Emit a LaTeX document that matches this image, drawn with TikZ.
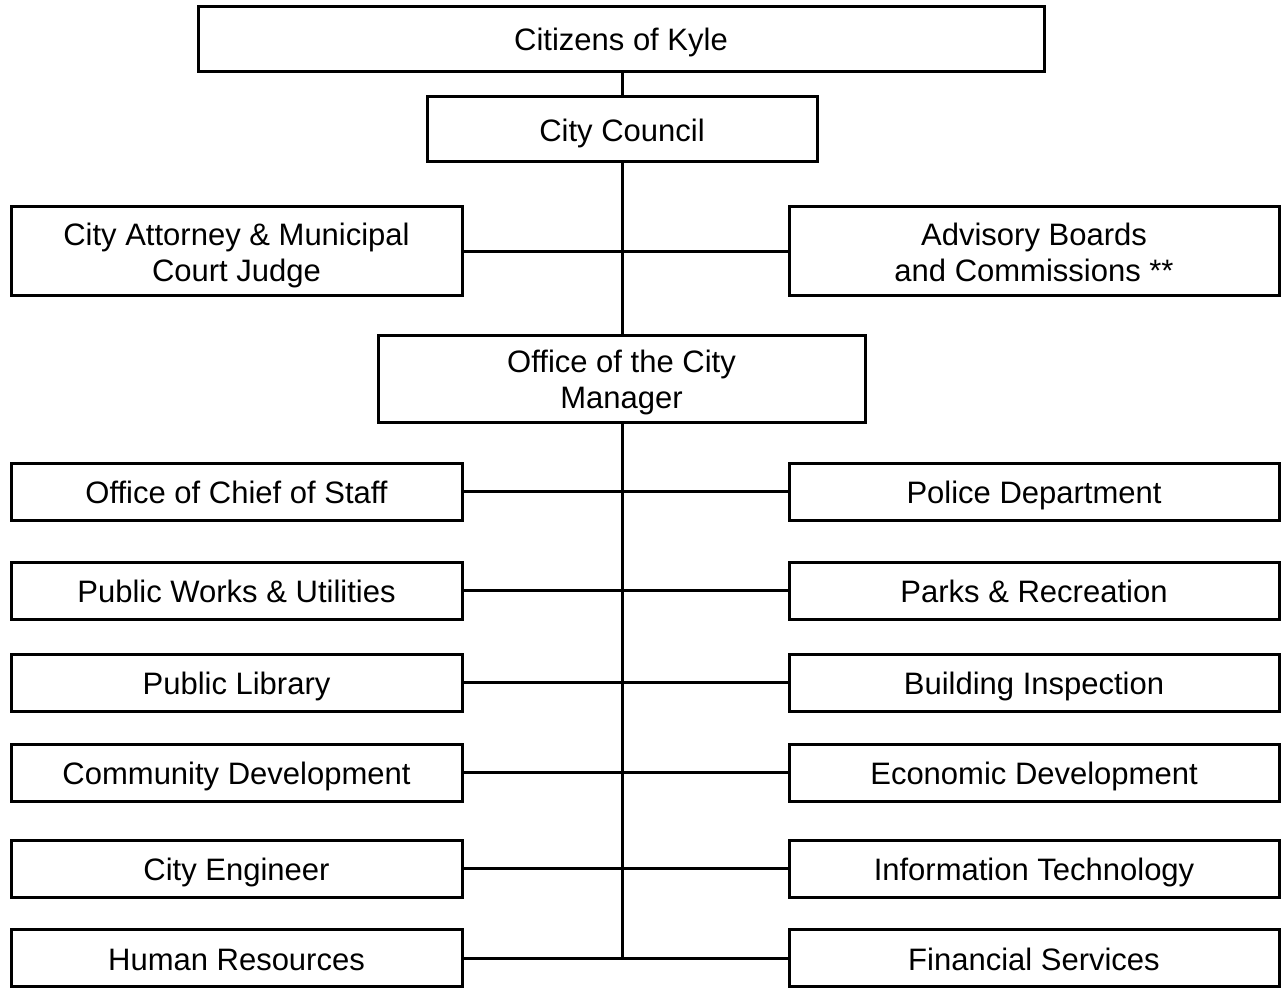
\documentclass[tikz,border=0pt]{standalone}
\usepackage{fontspec}
\setmainfont{Liberation Sans}
\begin{document}
\begin{tikzpicture}[x=1pt,y=-1pt,
  box/.style={draw=black,line width=3pt,inner sep=0pt,align=center,
    font=\fontsize{31}{36}\selectfont},
  one/.style={box,text height=24pt,text depth=0pt},
  two/.style={box,text height=60pt,text depth=0pt},
  lbox/.style={one,minimum width=451pt,minimum height=57pt},
  rbox/.style={one,minimum width=490pt,minimum height=57pt},
  link/.style={draw=black,line width=3pt}]
\useasboundingbox (0,0) rectangle (1281,990);
\node[one,minimum width=846pt,minimum height=64.5pt] (cit) at (621,38.75) {Citizens of Kyle};
\node[one,minimum width=390pt,minimum height=64.5pt] (cc) at (622,129) {City Council};
\node[two,minimum width=451pt,minimum height=89pt] (att) at (236.5,251) {City Attorney \& Municipal\\Court Judge};
\node[two,minimum width=490pt,minimum height=89pt] (adv) at (1034,251) {Advisory Boards\\and Commissions **};
\node[two,minimum width=487pt,minimum height=87pt] (mgr) at (621.5,378.5) {Office of the City\\Manager};
\node[lbox] (l1) at (236.5,491.5) {Office of Chief of Staff};
\node[rbox] (r1) at (1034,491.5) {Police Department};
\node[lbox] (l2) at (236.5,590.5) {Public Works \& Utilities};
\node[rbox] (r2) at (1034,590.5) {Parks \& Recreation};
\node[lbox] (l3) at (236.5,682.5) {Public Library};
\node[rbox] (r3) at (1034,682.5) {Building Inspection};
\node[lbox] (l4) at (236.5,772.5) {Community Development};
\node[rbox] (r4) at (1034,772.5) {Economic Development};
\node[lbox] (l5) at (236.5,868.5) {City Engineer};
\node[rbox] (r5) at (1034,868.5) {Information Technology};
\node[lbox] (l6) at (236.5,958) {Human Resources};
\node[rbox] (r6) at (1034,958) {Financial Services};
\coordinate (cc1) at (cc.north |- cit.south);
\coordinate (bot) at (cc.south |- l6.east);
\draw[link] (cc1) -- (cc.north);
\draw[link] (cc.south) -- (cc.south |- mgr.north);
\draw[link] (cc.south |- mgr.south) -- (bot);
\draw[link] (att.east) -- (adv.west);
\foreach \i in {1,...,6}{\draw[link] (l\i.east) -- (r\i.west);}
\end{tikzpicture}
\end{document}
